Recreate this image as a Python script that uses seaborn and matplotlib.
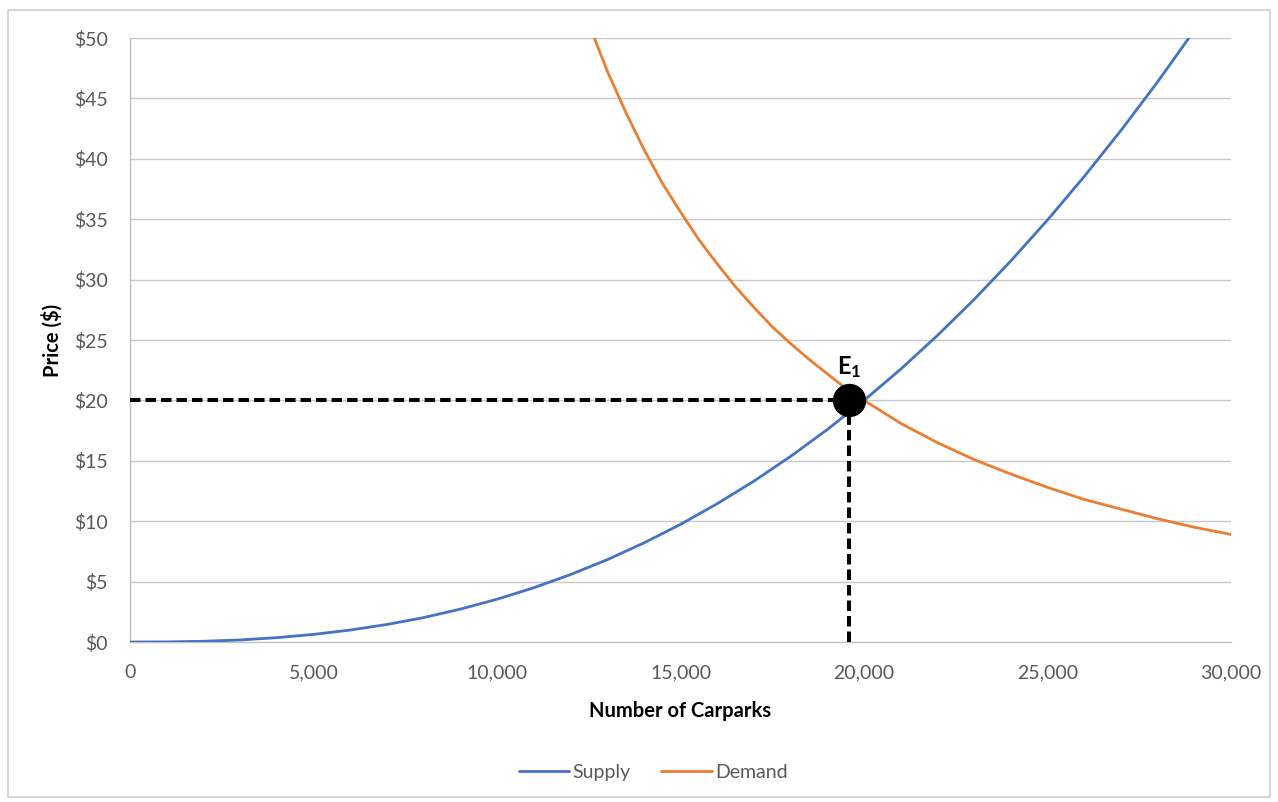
import matplotlib
matplotlib.use("Agg")
import matplotlib.pyplot as plt
from matplotlib.patches import Rectangle
from matplotlib.lines import Line2D
from matplotlib.ticker import FuncFormatter, MultipleLocator
import pandas as pd
import seaborn as sns

# Supply curve: quantity of carparks vs price
supply_qty = [0, 1000, 2000, 3000, 4000, 5000, 6000, 7000, 8000, 9000, 10000,
              11000, 12000, 13000, 14000, 15000, 16000, 17000, 18000, 19000,
              20000, 21000, 22000, 23000, 24000, 25000, 26000, 27000, 28000, 29000]
supply_price = [0.0, 0.01, 0.06, 0.17, 0.36, 0.63, 0.99, 1.45, 2.02, 2.72, 3.54,
                4.49, 5.58, 6.81, 8.2, 9.74, 11.45, 13.32, 15.37, 17.59,
                20.0, 22.59, 25.38, 28.36, 31.55, 34.94, 38.54, 42.35, 46.38, 50.64]

# Demand curve
demand_qty = [12600, 13000, 13500, 14000, 14500, 15000, 15500, 16000, 16500,
              17000, 17500, 18000, 18500, 19000, 19500, 20000, 21000, 22000,
              23000, 24000, 25000, 26000, 27000, 28000, 29000, 30000]
demand_price = [50.4, 47.3, 43.9, 40.8, 38.0, 35.6, 33.3, 31.3, 29.4,
                27.7, 26.1, 24.7, 23.4, 22.2, 21.0, 20.0, 18.1, 16.5,
                15.1, 13.9, 12.8, 11.8, 11.0, 10.2, 9.5, 8.9]

# Equilibrium point
eq_qty = 19600
eq_price = 20

series_names = ["Supply", "Demand"]
series_colors = ["#4472C4", "#ED7D31"]

sns.set_style("white")
plt.rcParams["font.family"] = ["Lato", "DejaVu Sans"]
plt.rcParams["mathtext.fontset"] = "custom"
plt.rcParams["mathtext.bf"] = "Lato:bold"
plt.rcParams["mathtext.rm"] = "Lato"

df = pd.concat([
    pd.DataFrame({"qty": supply_qty, "price": supply_price, "series": series_names[0]}),
    pd.DataFrame({"qty": demand_qty, "price": demand_price, "series": series_names[1]}),
], ignore_index=True)

fig = plt.figure(figsize=(12.78, 8.02), dpi=100)
ax = fig.add_axes([0.1017, 0.1995, 0.8616, 0.7531])

grid_color = "#c8c8c8"
for v in range(5, 55, 5):
    ax.axhline(v, color=grid_color, lw=1.0, zorder=0)

sns.lineplot(data=df, x="qty", y="price", hue="series", hue_order=series_names,
             palette=series_colors, linewidth=2.0, ax=ax, legend=False,
             sort=False, estimator=None, zorder=3)

# Dashed guides to the equilibrium
ax.plot([0, eq_qty], [eq_price, eq_price], color="black", lw=2.9,
        dashes=(2.6, 1.25), zorder=4, clip_on=False)
ax.plot([eq_qty, eq_qty], [0, eq_price], color="black", lw=2.9,
        dashes=(2.6, 1.25), zorder=4, clip_on=False)
ax.plot([eq_qty], [eq_price], marker="o", markersize=23, color="black",
        zorder=6, clip_on=False)
ax.annotate(r"$\mathbf{E_1}$", (eq_qty, eq_price), xytext=(0, 15),
            textcoords="offset points", ha="center", va="bottom",
            fontsize=17, color="black", zorder=7)

ax.set_xlim(0, 30000)
ax.set_ylim(0, 50)
ax.xaxis.set_major_locator(MultipleLocator(5000))
ax.yaxis.set_major_locator(MultipleLocator(5))
ax.xaxis.set_major_formatter(FuncFormatter(lambda v, p: f"{int(v):,}"))
ax.yaxis.set_major_formatter(FuncFormatter(lambda v, p: f"${int(v)}"))

for side in ["top", "right"]:
    ax.spines[side].set_visible(False)
for side in ["left", "bottom"]:
    ax.spines[side].set_color("#bfbfbf")
    ax.spines[side].set_linewidth(1.0)
    ax.spines[side].set_zorder(1)

ax.tick_params(axis="both", which="major", direction="out", length=4,
               width=1.0, color="#bfbfbf", labelsize=14, labelcolor="#595959")
ax.tick_params(axis="y", pad=12)
ax.tick_params(axis="x", pad=12)

ax.set_xlabel("Number of Carparks", fontsize=14.5, fontweight="bold",
              color="black", labelpad=14)
ax.set_ylabel("Price ($)", fontsize=14.5, fontweight="bold", color="black",
              labelpad=8)

handles = [Line2D([0], [0], color=c, lw=2.0) for c in series_colors]
fig.legend(handles, series_names, loc="center", bbox_to_anchor=(0.511, 0.037),
           ncol=2, frameon=False, fontsize=14, handlelength=2.6,
           handletextpad=0.15, columnspacing=1.6, labelcolor="#595959")

# Outer chart frame
fig.patches.append(Rectangle((0.006, 0.006), 0.988, 0.981,
                             transform=fig.transFigure, fill=False,
                             edgecolor="#d0d0d0", lw=1.2))

fig.savefig("out.png", dpi=100, facecolor="white")
